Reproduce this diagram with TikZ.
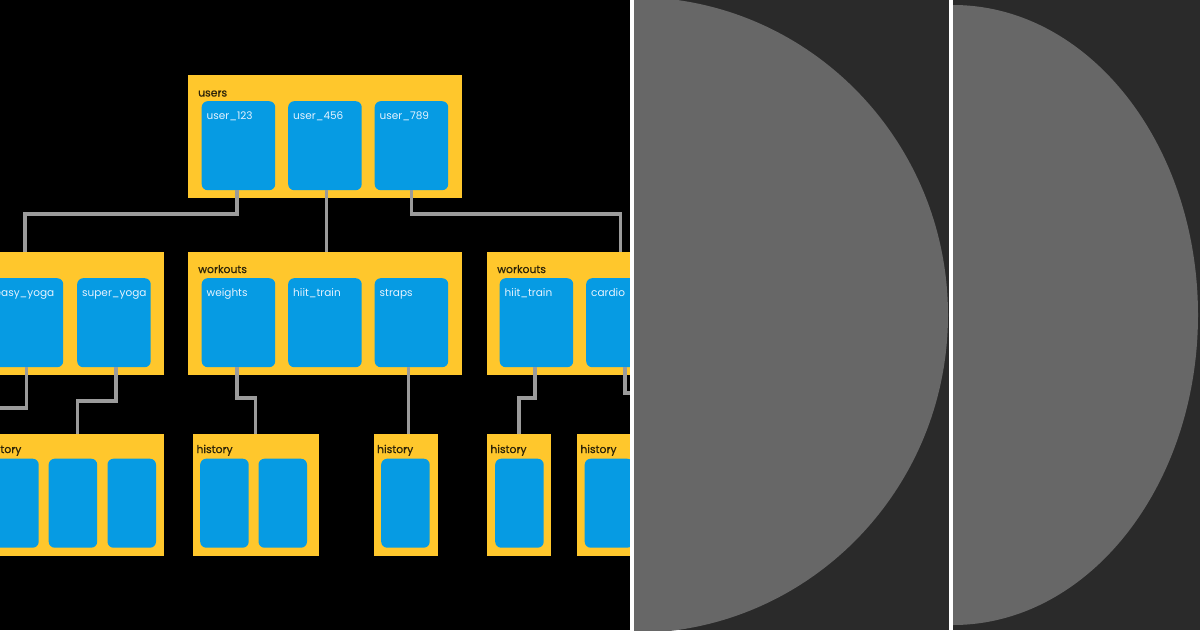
\documentclass[tikz,border=0pt]{standalone}
\usepackage{fontspec}
\setmainfont{Poppins}
\newfontfamily\darklabfont[FakeBold=0.7]{Poppins}
\definecolor{yel}{HTML}{FFC72C}
\definecolor{blu}{HTML}{069BE3}
\definecolor{wire}{HTML}{9B9B9B}
\definecolor{olabc}{HTML}{2E2509}
\definecolor{ilabc}{HTML}{E6F3FF}
\definecolor{panel}{HTML}{2A2A2A}
\definecolor{disc}{HTML}{676767}
\begin{document}
\begin{tikzpicture}[x=1pt,y=-1pt,
  outerbox/.style={fill=yel,draw=none,anchor=north west,inner sep=0,minimum height=122.5pt},
  innerbox/.style={fill=blu,draw=none,rounded corners=6pt,anchor=north west,inner sep=0,minimum width=73.5pt,minimum height=89pt},
  histbox/.style={fill=blu,draw=none,rounded corners=6pt,anchor=north west,inner sep=0,minimum width=48.5pt,minimum height=89pt},
  olab/.style={anchor=base west,inner sep=0,text=olabc,font=\darklabfont\fontsize{10.8}{12}\selectfont},
  ilab/.style={anchor=base west,inner sep=0,text=ilabc,font=\fontsize{10.5}{12}\selectfont},
  wireline/.style={draw=wire,line width=3.2pt}]
\useasboundingbox (0,0) rectangle (1200,630);
\fill[black] (0,0) rectangle (1200,630);
\begin{scope}
\clip (0,0) rectangle (630,630);
% top
\node[outerbox,minimum width=274pt] (U) at (188,75) {};
\node[innerbox] (u1) at (201.5,101) {};
\node[innerbox] (u2) at (288,101) {};
\node[innerbox] (u3) at (374.5,101) {};
\node[olab] (Ul) at ([shift={(10pt,-21.5pt)}]U.north west) {users};
\node[ilab] (u1l) at ([shift={(5pt,-18pt)}]u1.north west) {user\_123};
\node[ilab] (u2l) at ([shift={(5pt,-18pt)}]u2.north west) {user\_456};
\node[ilab] (u3l) at ([shift={(5pt,-18pt)}]u3.north west) {user\_789};
% middle
\node[outerbox,minimum width=274pt] (WA) at (-110.7,252) {};
\node[innerbox] (a0) at (-97,278) {};
\node[innerbox] (a1) at (-10.5,278) {};
\node[innerbox] (a2) at (77,278) {};
\node[ilab] (a1l) at ([shift={(5pt,-18pt)}]a1.north west) {easy\_yoga};
\node[ilab] (a2l) at ([shift={(5pt,-18pt)}]a2.north west) {super\_yoga};
\node[outerbox,minimum width=274pt] (WB) at (188,252) {};
\node[innerbox] (b1) at (201.5,278) {};
\node[innerbox] (b2) at (288,278) {};
\node[innerbox] (b3) at (374.5,278) {};
\node[olab] (WBl) at ([shift={(10pt,-21pt)}]WB.north west) {workouts};
\node[ilab] (b1l) at ([shift={(5pt,-18pt)}]b1.north west) {weights};
\node[ilab] (b2l) at ([shift={(5pt,-18pt)}]b2.north west) {hiit\_train};
\node[ilab] (b3l) at ([shift={(5pt,-18pt)}]b3.north west) {straps};
\node[outerbox,minimum width=274pt] (WC) at (487,252) {};
\node[innerbox] (c1) at (499.5,278) {};
\node[innerbox] (c2) at (586,278) {};
\node[olab] (WCl) at ([shift={(10pt,-21pt)}]WC.north west) {workouts};
\node[ilab] (c1l) at ([shift={(5pt,-18pt)}]c1.north west) {hiit\_train};
\node[ilab] (c2l) at ([shift={(5pt,-18pt)}]c2.north west) {cardio};
% bottom
\node[outerbox,minimum width=182.5pt] (H1) at (-19,433.5) {};
\node[histbox] (h11) at (-10,458.5) {};
\node[histbox] (h12) at (48.5,458.5) {};
\node[histbox] (h13) at (107.3,458.5) {};
\node[olab] (H1l) at ([shift={(4pt,-19.5pt)}]H1.north west) {history};
\node[outerbox,minimum width=126pt] (H2) at (192.3,433.5) {};
\node[histbox] (h21) at (200,458.5) {};
\node[histbox] (h22) at (258.3,458.5) {};
\node[olab] (H2l) at ([shift={(4pt,-19.5pt)}]H2.north west) {history};
\node[outerbox,minimum width=64.3pt] (H3) at (373.4,433.5) {};
\node[histbox] (h31) at (381,458.5) {};
\node[olab] (H3l) at ([shift={(3.5pt,-19.5pt)}]H3.north west) {history};
\node[outerbox,minimum width=64.3pt] (H4) at (486.7,433.5) {};
\node[histbox] (h41) at (495,458.5) {};
\node[olab] (H4l) at ([shift={(3.5pt,-19.5pt)}]H4.north west) {history};
\node[outerbox,minimum width=64.3pt] (H5) at (576.7,433.5) {};
\node[histbox] (h51) at (584.5,458.5) {};
\node[olab] (H5l) at ([shift={(3.5pt,-19.5pt)}]H5.north west) {history};
% connector bends
\coordinate (r1) at (0,214);
\coordinate (ra) at (0,408);
\coordinate (rb) at (0,401);
\coordinate (rc) at (0,398);
\coordinate (rd) at (0,393);
\coordinate (offL) at (-10,408);
\coordinate (offR) at (640,393);
\draw[wireline] ([xshift=-1.5pt]u1.south) -- ([xshift=-1.5pt]u1.south |- r1) -| ([xshift=-1.5pt]WA.north);
\draw[wireline] ([xshift=1.5pt]u2.south) -- ([xshift=1.5pt]u2.south |- WB.north);
\draw[wireline] (u3.south) -- (u3.south |- r1) -| ([xshift=-3.5pt]WC.north);
\draw[wireline] (a1.south) -- (a1.south |- ra) -- (offL);
\draw[wireline] ([xshift=2pt]a2.south) -- ([xshift=2pt]a2.south |- rb) -| ([xshift=5pt]H1.north);
\draw[wireline] ([xshift=-1.5pt]b1.south) -- ([xshift=-1.5pt]b1.south |- rc) -| (H2.north);
\draw[wireline] ([xshift=-3pt]b3.south) -- ([xshift=-3pt]b3.south |- H3.north);
\draw[wireline] ([xshift=-1.5pt]c1.south) -- ([xshift=-1.5pt]c1.south |- rc) -| (H4.north);
\draw[wireline] ([xshift=2pt]c2.south) -- ([xshift=2pt]c2.south |- rd) -- (offR);
\end{scope}
% right panels
\fill[white] (630,0) rectangle (634,630);
\fill[panel] (634,0) rectangle (949,630);
\begin{scope}
\clip (634,0) rectangle (949,630);
\fill[disc] (634,315) ellipse [x radius=314, y radius=318];
\end{scope}
\fill[white] (949,0) rectangle (953,630);
\fill[panel] (953,0) rectangle (1200,630);
\begin{scope}
\clip (953,0) rectangle (1200,630);
\fill[disc] (953,315) ellipse [x radius=245, y radius=310];
\end{scope}
\end{tikzpicture}
\end{document}
